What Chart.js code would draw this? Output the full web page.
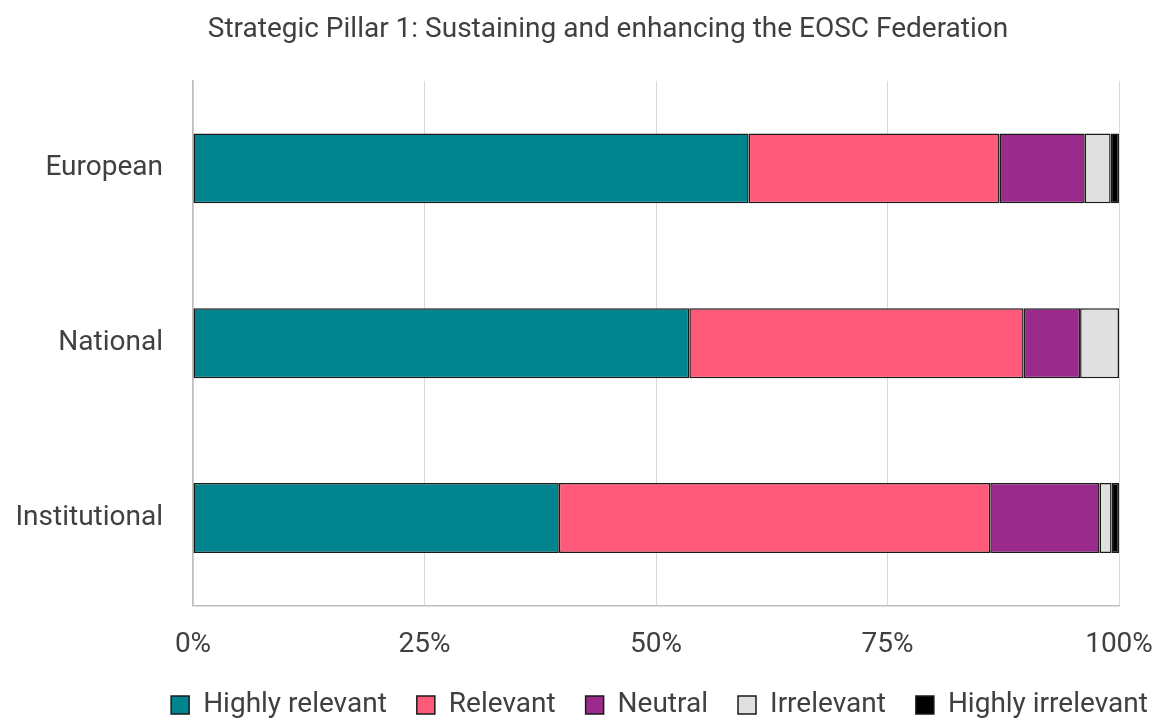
<!DOCTYPE html>
<html>
<head>
<meta charset="utf-8">
<script src="https://cdn.jsdelivr.net/npm/chart.js@4.4.1/dist/chart.umd.min.js"></script>
<style>
  html, body { margin: 0; padding: 0; background: #fff; overflow: hidden; }
  #wrap { width: 1159px; height: 718px; }
</style>
</head>
<body>
<div id="wrap"><canvas id="pillarChart" width="1159" height="718"></canvas></div>
<script>
// Data (percent of respondents)
const levels = ["European", "National", "Institutional"];
const highlyRelevant = [60.0, 53.6, 39.5];
const relevant = [27.1, 36.1, 46.6];
const neutral = [9.2, 6.1, 11.8];
const irrelevant = [2.8, 4.2, 1.3];
const highlyIrrelevant = [0.9, 0, 0.8];
const xTicks = [0, 25, 50, 75, 100];

const chartTitle = "Strategic Pillar 1: Sustaining and enhancing the EOSC Federation";

Chart.defaults.font.family = "Roboto";
Chart.defaults.color = "#404040";

// タイトルを任意の位置に描く / 凡例を右へずらす
const layoutPlugin = {
  id: "fixedTitle",
  afterLayout(chart) {
    const legend = chart.legend;
    if (legend) {
      legend.left += 80;
      legend.right += 80;
    }
  },
  afterDraw(chart) {
    const ctx = chart.ctx;
    ctx.save();
    ctx.font = "28px Roboto";
    ctx.fillStyle = "#404040";
    ctx.textAlign = "center";
    ctx.textBaseline = "middle";
    ctx.fillText(chartTitle, 608, 30);
    ctx.restore();
  },
};

function series(label, data, color) {
  return {
    label: label,
    data: data,
    backgroundColor: color,
    borderColor: "#1a1a1a",
    borderWidth: 1.5,
    borderSkipped: false,
    categoryPercentage: 1,
    barPercentage: 0.4,
  };
}

const ctx = document.getElementById("pillarChart").getContext("2d");
new Chart(ctx, {
  type: "bar",
  data: {
    labels: levels,
    datasets: [
      series("Highly relevant", highlyRelevant, "#00848E"),
      series("Relevant", relevant, "#FF5A7A"),
      series("Neutral", neutral, "#9B2A8D"),
      series("Irrelevant", irrelevant, "#E0E0E0"),
      series("Highly irrelevant", highlyIrrelevant, "#000000"),
    ],
  },
  options: {
    indexAxis: "y",
    responsive: false,
    animation: false,
    layout: {
      padding: { left: 0, right: 0, top: 81, bottom: -11 },
    },
    scales: {
      x: {
        stacked: true,
        min: 0,
        max: 100,
        afterBuildTicks(scale) {
          scale.ticks = xTicks.map((v) => ({ value: v }));
        },
        afterFit(scale) {
          scale.paddingRight = 40;
          scale.height = scale.height - 24;
        },
        ticks: {
          padding: 23,
          font: { size: 28 },
          color: "#404040",
          callback: (v) => v + "%",
        },
        grid: {
          color: "#d9d9d9",
          lineWidth: 1,
          drawTicks: false,
        },
        border: { color: "#bfbfbf", width: 1.5 },
      },
      y: {
        stacked: true,
        afterFit(scale) {
          scale.width = 193;
          scale.paddingTop = 0;
          scale.paddingBottom = 0;
        },
        ticks: {
          padding: 30,
          font: { size: 28 },
          color: "#404040",
        },
        grid: { display: false, drawTicks: false },
        border: { color: "#bfbfbf", width: 1.5 },
      },
    },
    plugins: {
      title: { display: false },
      tooltip: { enabled: false },
      legend: {
        position: "bottom",
        labels: {
          boxWidth: 18,
          boxHeight: 18,
          padding: 30,
          font: { size: 28 },
          color: "#404040",
        },
      },
    },
  },
  plugins: [layoutPlugin],
});
</script>
</body>
</html>
